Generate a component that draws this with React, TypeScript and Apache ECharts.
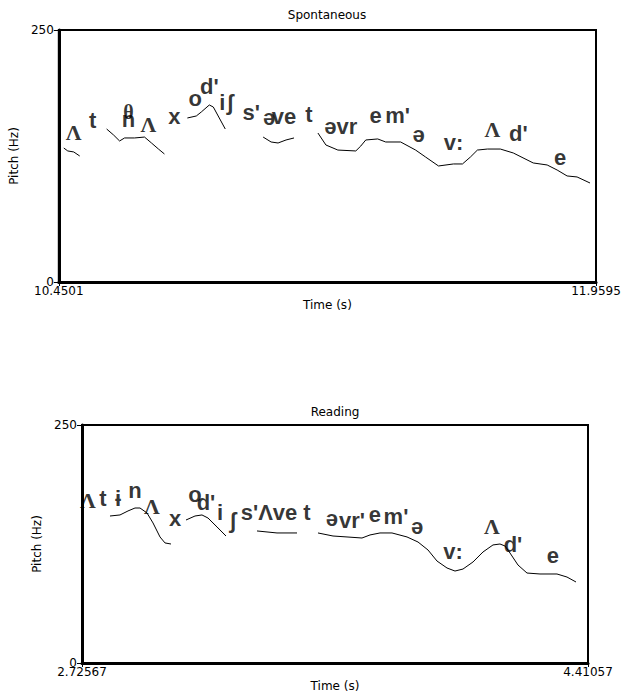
import { useEffect, useRef } from "react";
import * as echarts from "echarts";

// ---------- data ----------
const pitchRange = [0, 250];
const pitchTickLabels = ["0", "250"];

const spontTimeRange = [10.4501, 11.9595];
const spontTimeLabels = ["10.4501", "11.9595"];
const readTimeRange = [2.72567, 4.41057];
const readTimeLabels = ["2.72567", "4.41057"];

// Spontaneous pitch contour (time s, pitch Hz), one array per voiced stretch
const spontSeg1 = [[10.4641, 132.9], [10.4753, 130.0], [10.4921, 129.0], [10.5089, 125.0]];
const spontSeg2 = [[10.5845, 151.8], [10.6041, 145.8], [10.6209, 139.9], [10.6349, 142.9], [10.6629, 142.9], [10.6909, 143.8], [10.7105, 137.9], [10.7301, 131.9], [10.7469, 127.0]];
const spontSeg3 = [[10.8113, 162.7], [10.8365, 164.7], [10.8506, 168.7], [10.873, 175.6], [10.8842, 173.6], [10.901, 162.7], [10.9178, 151.8]];
const spontSeg4 = [[11.0242, 143.8], [11.0466, 138.9], [11.0662, 137.9], [11.0886, 140.9], [11.111, 142.9]];
const spontSeg5 = [[11.1782, 147.8], [11.2006, 135.9], [11.2342, 130.9], [11.2846, 130.0], [11.2986, 134.9], [11.3126, 140.9], [11.3462, 141.9], [11.3686, 138.9], [11.4106, 138.9], [11.4526, 130.9], [11.4806, 124.0], [11.517, 115.1], [11.559, 117.1], [11.5843, 117.1], [11.6067, 124.0], [11.6263, 130.9], [11.6543, 131.9], [11.6907, 131.9], [11.7271, 128.0], [11.7831, 118.1], [11.8223, 116.1], [11.8503, 111.1], [11.8783, 105.2], [11.9063, 104.2], [11.9427, 98.2]];

// Reading pitch contour
const readSeg1 = [[2.8189, 154.4], [2.8522, 155.5], [2.8788, 159.7], [2.9021, 162.8], [2.9188, 162.8], [2.9421, 157.6], [2.9621, 147.1], [2.9854, 132.4], [3.002, 126.1], [3.022, 125.0]];
const readSeg2 = [[3.072, 150.2], [3.1019, 154.4], [3.1252, 155.5], [3.1452, 152.3], [3.1752, 142.9], [3.2052, 133.4]];
const readSeg3 = [[3.3084, 138.7], [3.375, 136.6], [3.4416, 136.6]];
const readSeg4 = [[3.5115, 136.6], [3.5615, 133.4], [3.6081, 132.4], [3.658, 131.3], [3.6847, 134.5], [3.718, 136.6], [3.7579, 136.6], [3.8079, 132.4], [3.8445, 127.1], [3.8778, 118.7], [3.9078, 107.1], [3.9411, 99.8], [3.9677, 96.6], [3.9943, 98.7], [4.0276, 106.1], [4.0609, 116.6], [4.0942, 124.0], [4.1175, 125.0], [4.1342, 122.9], [4.1509, 115.5], [4.1775, 102.9], [4.2075, 94.5], [4.2507, 93.5], [4.3073, 93.5], [4.3406, 90.3], [4.3706, 85.1]];

// IPA transcription labels: [time, pitch, text]
const spontLabels: [number, number, string][] = [
  [10.4921, 148.8, "Λ"], [10.5453, 160.7, "t"], [10.6461, 168.6, "θ"], [10.6461, 161.7, "n"],
  [10.7021, 155.8, "Λ"], [10.7749, 163.7, "x"], [10.8337, 182.5, "o"], [10.873, 194.4, "d'"],
  [10.9094, 177.6, "i"], [10.9318, 177.6, "ʃ"], [10.9906, 167.7, "s'"], [11.041, 162.7, "ə"],
  [11.083, 163.7, "ve"], [11.153, 165.7, "t"], [11.2426, 153.8, "əvr"], [11.3406, 164.7, "e"],
  [11.4022, 164.7, "m'"], [11.461, 146.8, "ə"], [11.559, 137.9, "v:"], [11.6683, 150.8, "Λ"],
  [11.7411, 147.8, "d'"], [11.8587, 124.0, "e"],
];
const readLabels: [number, number, string][] = [
  [2.7457, 171.2, "Λ"], [2.7956, 173.3, "t"], [2.8455, 173.3, "ɨ"], [2.9022, 181.7, "n"],
  [2.9588, 164.9, "Λ"], [3.0354, 152.3, "x"], [3.1019, 176.5, "o"], [3.1386, 169.1, "d'"],
  [3.1852, 157.6, "i"], [3.2285, 150.2, "ʃ"], [3.3484, 157.6, "s'Λve"], [3.4749, 158.6, "t"],
  [3.5581, 152.3, "ə"], [3.6247, 150.2, "vr'"], [3.7013, 156.5, "e"], [3.7712, 153.4, "m'"],
  [3.8412, 142.9, "ə"], [3.961, 116.6, "v:"], [4.0909, 142.9, "Λ"], [4.1608, 124.0, "d'"],
  [4.294, 112.4, "e"],
];

const panelTitles = ["Spontaneous", "Reading"];

// ---------- chart ----------
const SANS = "DejaVu Sans";

function xAxisFor(gridIndex: number, range: number[], labels: string[]) {
  return {
    type: "value",
    gridIndex,
    min: range[0],
    max: range[1],
    name: "Time (s)",
    nameLocation: "middle",
    nameGap: 17,
    nameTextStyle: { color: "#000", fontSize: 12, fontFamily: SANS },
    axisLine: { show: true, onZero: false, lineStyle: { color: "#000", width: 3 } },
    axisTick: { show: true, length: 4, customValues: range, lineStyle: { color: "#000", width: 1 } },
    axisLabel: {
      show: true,
      customValues: range,
      margin: 3,
      color: "#000",
      fontSize: 12,
      fontFamily: SANS,
      formatter: (v: number) => (Math.abs(v - range[0]) < 1e-9 ? labels[0] : labels[1]),
    },
    splitLine: { show: false },
  };
}

function yAxisFor(gridIndex: number) {
  return {
    type: "value",
    gridIndex,
    min: pitchRange[0],
    max: pitchRange[1],
    interval: 250,
    name: "Pitch (Hz)",
    nameLocation: "middle",
    nameGap: 36,
    nameTextStyle: { color: "#000", fontSize: 12, fontFamily: SANS },
    axisLine: { show: true, onZero: false, lineStyle: { color: "#000", width: 3 } },
    axisTick: { show: true, length: 5, lineStyle: { color: "#000", width: 1 } },
    axisLabel: {
      color: "#000",
      fontSize: 12,
      fontFamily: SANS,
      margin: 5,
      formatter: (v: number) => (v === pitchRange[0] ? pitchTickLabels[0] : pitchTickLabels[1]),
    },
    splitLine: { show: false },
  };
}

function lineSeries(idx: number, data: number[][]) {
  return {
    type: "line",
    xAxisIndex: idx,
    yAxisIndex: idx,
    data,
    showSymbol: false,
    symbol: "none",
    silent: true,
    lineStyle: { color: "#000", width: 1 },
  };
}

function labelSeries(idx: number, labels: [number, number, string][]) {
  return {
    type: "scatter",
    xAxisIndex: idx,
    yAxisIndex: idx,
    symbolSize: 1,
    silent: true,
    itemStyle: { color: "rgba(0,0,0,0)" },
    z: 5,
    data: labels.map(([t, p, s]) => {
      const serif = s === "Λ" || s === "θ";
      return {
        value: [t, p],
        name: s,
        label: serif
          ? { fontFamily: "Liberation Serif", fontSize: s === "θ" ? 20 : 22 }
          : undefined,
      };
    }),
    label: {
      show: true,
      position: "inside",
      formatter: "{b}",
      color: "#000",
      fontSize: 22,
      fontWeight: "bold",
      fontFamily: "Liberation Sans",
    },
  };
}

export default function App() {
  const ref = useRef<HTMLDivElement>(null);
  useEffect(() => {
    if (!ref.current) return;
    const chart = echarts.init(ref.current, undefined, { renderer: "svg" });
    chart.setOption({
      animation: false,
      backgroundColor: "#fff",
      grid: [
        { left: 57, top: 30, width: 539, height: 252, show: true, borderColor: "#000", borderWidth: 2, backgroundColor: "transparent" },
        { left: 82, top: 425, width: 506, height: 238, show: true, borderColor: "#000", borderWidth: 2, backgroundColor: "transparent" },
      ],
      xAxis: [xAxisFor(0, spontTimeRange, spontTimeLabels), xAxisFor(1, readTimeRange, readTimeLabels)],
      yAxis: [yAxisFor(0), yAxisFor(1)],
      graphic: [
        { type: "text", x: 327, y: 15, style: { text: panelTitles[0], align: "center", verticalAlign: "middle", fontSize: 12, fontFamily: SANS, fill: "#000" } },
        { type: "text", x: 335, y: 412, style: { text: panelTitles[1], align: "center", verticalAlign: "middle", fontSize: 12, fontFamily: SANS, fill: "#000" } },
      ],
      series: [
        lineSeries(0, spontSeg1),
        lineSeries(0, spontSeg2),
        lineSeries(0, spontSeg3),
        lineSeries(0, spontSeg4),
        lineSeries(0, spontSeg5),
        lineSeries(1, readSeg1),
        lineSeries(1, readSeg2),
        lineSeries(1, readSeg3),
        lineSeries(1, readSeg4),
        labelSeries(0, spontLabels),
        labelSeries(1, readLabels),
      ],
    });
    return () => chart.dispose();
  }, []);
  return (
    <div
      ref={ref}
      style={{ position: "absolute", left: 0, top: 0, width: 624, height: 693, background: "#fff" }}
    />
  );
}
